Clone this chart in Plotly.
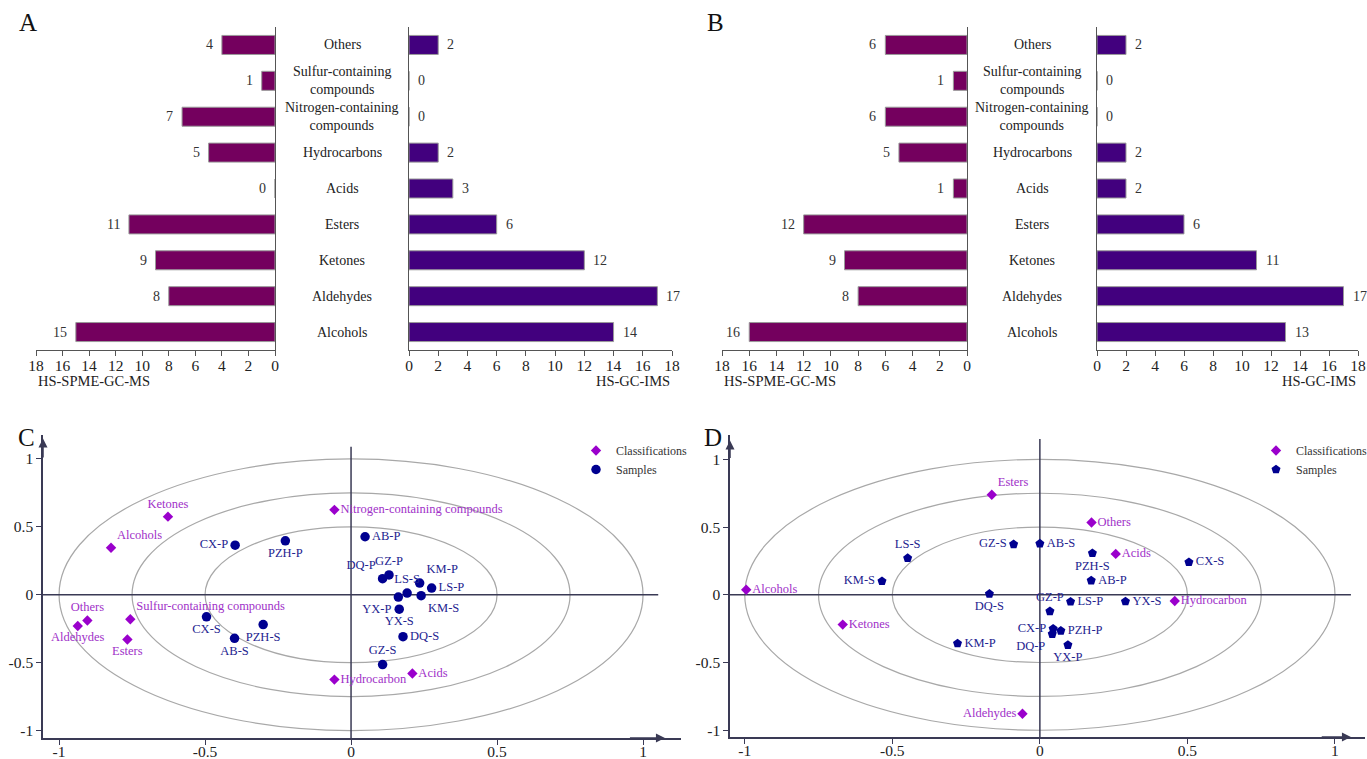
import plotly.graph_objects as go

FONT = "Liberation Serif"

# ---------------- Data ----------------
categories = ["Others", "Sulfur-containing compounds", "Nitrogen-containing compounds",
              "Hydrocarbons", "Acids", "Esters", "Ketones", "Aldehydes", "Alcohols"]
category_labels = ["Others", "Sulfur-containing<br>compounds", "Nitrogen-containing<br>compounds",
                   "Hydrocarbons", "Acids", "Esters", "Ketones", "Aldehydes", "Alcohols"]

A_spme = [4, 1, 7, 5, 0, 11, 9, 8, 15]
A_ims = [2, 0, 0, 2, 3, 6, 12, 17, 14]
B_spme = [6, 1, 6, 5, 1, 12, 9, 8, 16]
B_ims = [2, 0, 0, 2, 2, 6, 11, 17, 13]

bar_ticks = [0, 2, 4, 6, 8, 10, 12, 14, 16, 18]

# Panel C (PLS loadings)
C_class_names = ["Ketones", "Nitrogen-containing compounds", "Alcohols", "Sulfur-containing compounds",
                 "Others", "Aldehydes", "Esters", "Hydrocarbon", "Acids"]
C_class_x = [-0.627, -0.057, -0.822, -0.756, -0.903, -0.936, -0.766, -0.057, 0.21]
C_class_y = [0.575, 0.625, 0.346, -0.18, -0.19, -0.23, -0.33, -0.625, -0.58]
C_class_pos = ["top center", "middle right", "top right", "top right", "top center",
               "bottom center", "bottom center", "middle right", "middle right"]

C_samp_names = ["CX-P", "PZH-P", "AB-P", "DQ-P", "GZ-P", "KM-P", "LS-P", "LS-S", "YX-P",
                "KM-S", "YX-S", "DQ-S", "GZ-S", "CX-S", "PZH-S", "AB-S"]
C_samp_x = [-0.397, -0.225, 0.048, 0.108, 0.130, 0.235, 0.276, 0.192, 0.162,
            0.24, 0.165, 0.178, 0.108, -0.495, -0.301, -0.399]
C_samp_y = [0.365, 0.397, 0.427, 0.118, 0.146, 0.086, 0.049, 0.012, -0.017,
            -0.007, -0.106, -0.309, -0.514, -0.163, -0.22, -0.321]
C_samp_pos = ["middle left", "bottom center", "middle right", "top left", "top center",
              "top right", "middle right", "top center", "bottom left", "bottom right",
              "bottom center", "middle right", "top center", "bottom center", "bottom center",
              "bottom center"]

# Panel D
D_class_names = ["Esters", "Others", "Acids", "Alcohols", "Hydrocarbon", "Ketones", "Aldehydes"]
D_class_x = [-0.163, 0.175, 0.257, -0.995, 0.457, -0.668, -0.059]
D_class_y = [0.739, 0.534, 0.302, 0.037, -0.046, -0.22, -0.878]
D_class_pos = ["top right", "middle right", "middle right", "middle right", "middle right",
               "middle right", "middle left"]

D_samp_names = ["LS-S", "KM-S", "GZ-S", "AB-S", "PZH-S", "CX-S", "AB-P", "DQ-S", "GZ-P",
                "LS-P", "YX-S", "CX-P", "DQ-P", "PZH-P", "YX-P", "KM-P"]
D_samp_x = [-0.448, -0.535, -0.089, 0.0, 0.178, 0.505, 0.174, -0.171, 0.034,
            0.104, 0.29, 0.045, 0.042, 0.071, 0.095, -0.279]
D_samp_y = [0.271, 0.1, 0.373, 0.378, 0.307, 0.241, 0.105, 0.007, -0.122,
            -0.051, -0.049, -0.251, -0.29, -0.266, -0.371, -0.359]
D_samp_pos = ["top center", "middle left", "middle left", "middle right", "bottom center",
              "middle right", "middle right", "bottom center", "top center", "middle right",
              "middle right", "middle left", "bottom left", "middle right", "bottom center",
              "middle right"]

circle_radii = [0.5, 0.75, 1.0]
scatter_ticks = [-1, -0.5, 0, 0.5, 1]
scatter_ticktext = ["-1", "-0.5", "0", "0.5", "1"]

# ---------------- Styles / layout geometry ----------------
W, H = 1367, 759
LEFT_BAR = "#74005E"
RIGHT_BAR = "#42007E"
PURPLE = "#9A00CC"
PURPLE_TXT = "#A030C8"
NAVY = "#000090"
NAVY_TXT = "#23238F"
AXIS_COL = "#3A3A55"

def fx(x):
    return x / W

def fy(y):
    return 1 - y / H

def px(x0, x1):
    return [fx(x0), fx(x1)]

def py(top, bottom):
    return [fy(bottom), fy(top)]

bar_ydom = py(27, 350)

fig = go.Figure()
annotations = []
shapes = []

def add_bar_panel(vals_left, vals_right, xl, yl, xr, yr):
    fig.add_trace(go.Bar(x=vals_left, y=categories, orientation="h", xaxis=xl, yaxis=yl,
                         marker=dict(color=LEFT_BAR, line=dict(color="#9a9a9a", width=1)),
                         width=0.53, showlegend=False, hoverinfo="x+y"))
    fig.add_trace(go.Bar(x=vals_right, y=categories, orientation="h", xaxis=xr, yaxis=yr,
                         marker=dict(color=RIGHT_BAR, line=dict(color="#9a9a9a", width=1)),
                         width=0.53, showlegend=False, hoverinfo="x+y"))
    for v, c in zip(vals_left, categories):
        annotations.append(dict(x=v, y=c, xref=xl, yref=yl, text=str(v), showarrow=False,
                                xanchor="right", yanchor="middle", xshift=-7,
                                font=dict(family=FONT, size=14, color="#333")))
    for v, c in zip(vals_right, categories):
        annotations.append(dict(x=v, y=c, xref=xr, yref=yr, text=str(v), showarrow=False,
                                xanchor="left", yanchor="middle", xshift=7,
                                font=dict(family=FONT, size=14, color="#333")))

add_bar_panel(A_spme, A_ims, "x", "y", "x2", "y2")
add_bar_panel(B_spme, B_ims, "x3", "y3", "x4", "y4")

def add_scatter_panel(cx, cy, cn, cp, sx, sy, sn, sp, xa, ya, legend, samp_symbol):
    fig.add_trace(go.Scatter(x=cx, y=cy, mode="markers+text", text=cn, textposition=cp,
                             marker=dict(symbol="diamond", size=8, color=PURPLE),
                             textfont=dict(family=FONT, size=12.5, color=PURPLE_TXT),
                             name="Classifications", xaxis=xa, yaxis=ya, legend=legend,
                             cliponaxis=False))
    fig.add_trace(go.Scatter(x=sx, y=sy, mode="markers+text", text=sn, textposition=sp,
                             marker=dict(symbol=samp_symbol, size=9.5, color=NAVY),
                             textfont=dict(family=FONT, size=12.5, color=NAVY_TXT),
                             name="Samples", xaxis=xa, yaxis=ya, legend=legend,
                             cliponaxis=False))

add_scatter_panel(C_class_x, C_class_y, C_class_names, C_class_pos,
                  C_samp_x, C_samp_y, C_samp_names, C_samp_pos, "x5", "y5", "legend", "circle")
add_scatter_panel(D_class_x, D_class_y, D_class_names, D_class_pos,
                  D_samp_x, D_samp_y, D_samp_names, D_samp_pos, "x6", "y6", "legend2", "pentagon")

tickfont = dict(family=FONT, size=15.5, color="#222")

def bar_xaxis(domain, rng, anchor):
    return dict(domain=domain, range=rng, anchor=anchor, tickvals=bar_ticks, ticks="outside",
                ticklen=5, tickcolor="#555", showline=True, linecolor="#555", linewidth=1,
                showgrid=False, zeroline=False, tickfont=tickfont, ticklabelstandoff=-4)

def bar_yaxis(anchor, side):
    return dict(domain=bar_ydom, anchor=anchor, side=side, type="category",
                categoryorder="array", categoryarray=categories,
                range=[len(categories) - 0.5, -0.5], showline=True, linecolor="#555",
                linewidth=1, showticklabels=False, ticks="", showgrid=False, zeroline=False)

def sc_xaxis(domain, rng, anchor):
    return dict(domain=domain, range=rng, anchor=anchor, tickvals=scatter_ticks,
                ticktext=scatter_ticktext, ticks="outside", ticklen=5, tickcolor=AXIS_COL,
                showline=True, linecolor=AXIS_COL, linewidth=1.5, showgrid=False,
                zeroline=False, tickfont=tickfont, ticklabelstandoff=-6)

def sc_yaxis(domain, rng, anchor):
    return dict(domain=domain, range=rng, anchor=anchor, tickvals=scatter_ticks,
                ticktext=scatter_ticktext, ticks="outside", ticklen=5, tickcolor=AXIS_COL,
                showline=True, linecolor=AXIS_COL, linewidth=1.5, showgrid=False,
                zeroline=False, tickfont=tickfont)

C_xr = [-1.055, 1.13]
C_yr = [-1.055, 1.18]
D_xr = [-1.05, 1.10]
D_yr = [-1.05, 1.18]

legend_font = dict(family=FONT, size=12, color="#333")

fig.update_layout(
    width=W, height=H, margin=dict(l=0, r=0, t=0, b=0, autoexpand=False),
    paper_bgcolor="white", plot_bgcolor="rgba(0,0,0,0)",
    font=dict(family=FONT, size=13, color="#222"),
    xaxis=bar_xaxis(px(36, 275), [18, 0], "y"),
    yaxis=bar_yaxis("x", "right"),
    xaxis2=bar_xaxis(px(409, 672), [0, 18], "y2"),
    yaxis2=bar_yaxis("x2", "left"),
    xaxis3=bar_xaxis(px(722, 967), [18, 0], "y3"),
    yaxis3=bar_yaxis("x3", "right"),
    xaxis4=bar_xaxis(px(1097, 1358), [0, 18], "y4"),
    yaxis4=bar_yaxis("x4", "left"),
    xaxis5=sc_xaxis(px(43, 681), C_xr, "y5"),
    yaxis5=sc_yaxis(py(434.5, 738), C_yr, "x5"),
    xaxis6=sc_xaxis(px(730, 1364.5), D_xr, "y6"),
    yaxis6=sc_yaxis(py(435, 737), D_yr, "x6"),
    legend=dict(x=fx(576), y=fy(436), xanchor="left", yanchor="top",
                font=legend_font, bgcolor="rgba(0,0,0,0)", itemwidth=30, tracegroupgap=0),
    legend2=dict(x=fx(1256), y=fy(436), xanchor="left", yanchor="top",
                 font=legend_font, bgcolor="rgba(0,0,0,0)", itemwidth=30, tracegroupgap=0),
)

# category labels between bar panels
for ylab, xc in (("y", 342), ("y3", 1032)):
    for cat, lab in zip(categories, category_labels):
        annotations.append(dict(x=fx(xc), xref="paper", y=cat, yref=ylab, text=lab,
                                showarrow=False, xanchor="center", yanchor="middle",
                                font=dict(family=FONT, size=14, color="#222")))

# axis titles for bar panels
for x0, x1 in ((36, 672), (722, 1358)):
    annotations.append(dict(x=fx(x0), y=fy(381), xref="paper", yref="paper", text="HS-SPME-GC-MS",
                            showarrow=False, xanchor="left", yanchor="middle",
                            font=dict(family=FONT, size=14.5, color="#222")))
    annotations.append(dict(x=fx(x1), y=fy(381), xref="paper", yref="paper", text="HS-GC-IMS",
                            showarrow=False, xanchor="right", yanchor="middle",
                            font=dict(family=FONT, size=14.5, color="#222")))

# panel letters
for letter, lx, ly in (("A", 28, 22), ("B", 716, 22), ("C", 26, 437), ("D", 713, 437)):
    annotations.append(dict(x=fx(lx), y=fy(ly), xref="paper", yref="paper", text=letter,
                            showarrow=False, xanchor="center", yanchor="middle",
                            font=dict(family=FONT, size=25, color="#111")))

# scatter panel circles, cross lines, arrows
for xa, ya, xr, yr, hx_end, vy_end, ax_end, ay_end in (
        ("x5", "y5", C_xr, C_yr, 1.052, 1.09, 1.075, 1.15),
        ("x6", "y6", D_xr, D_yr, 1.054, 1.15, 1.054, 1.14)):
    for r in circle_radii:
        shapes.append(dict(type="circle", xref=xa, yref=ya, x0=-r, x1=r, y0=-r, y1=r,
                           line=dict(color="#A8A8A8", width=1.2), layer="below"))
    shapes.append(dict(type="line", xref=xa, yref=ya, x0=xr[0], x1=hx_end, y0=0, y1=0,
                       line=dict(color=AXIS_COL, width=1.5), layer="below"))
    shapes.append(dict(type="line", xref=xa, yref=ya, x0=0, x1=0, y0=yr[0], y1=vy_end,
                       line=dict(color=AXIS_COL, width=1.5), layer="below"))
    annotations.append(dict(x=ax_end, y=yr[0], ax=0.95, ay=yr[0], xref=xa, yref=ya,
                            axref=xa, ayref=ya, text="", showarrow=True, arrowhead=2,
                            arrowsize=1.2, arrowwidth=1.5, arrowcolor=AXIS_COL))
    annotations.append(dict(x=xr[0], y=ay_end, ax=xr[0], ay=1.0, xref=xa, yref=ya,
                            axref=xa, ayref=ya, text="", showarrow=True, arrowhead=2,
                            arrowsize=1.2, arrowwidth=1.5, arrowcolor=AXIS_COL))

fig.update_layout(shapes=shapes, annotations=annotations)

# remove the default page margin so the 1367x759 figure fills the window exactly
fig.write_html("out.html", config={"displayModeBar": False},
               post_script="document.body.style.margin='0';document.body.style.overflow='hidden';")
